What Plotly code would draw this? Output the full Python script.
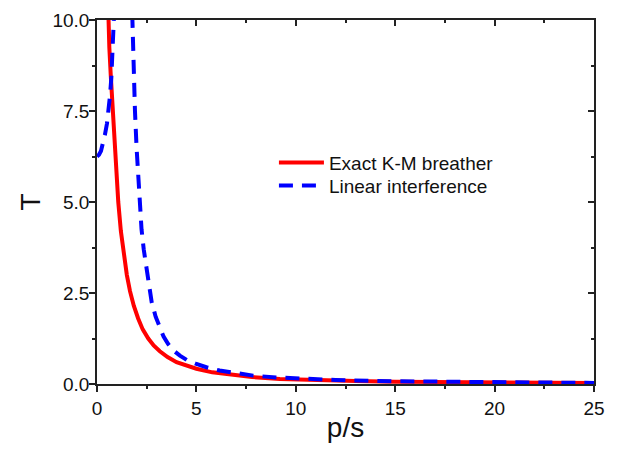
import plotly.graph_objects as go

FONT = "Liberation Sans, Arial, sans-serif"
AXIS_COL = "#222222"

# ── Data ──────────────────────────────────────────────────────────────────────
# Exact K-M breather (solid red)
red_p = [0.54, 0.57, 0.62, 0.69, 0.77, 0.86, 0.96, 1.07, 1.2, 1.35, 1.5, 1.66,
         1.85, 2.07, 2.3, 2.58, 2.85, 3.16, 3.55, 4.0, 4.5, 5.0, 5.8, 6.7, 7.8,
         9.2, 11.0, 13.0, 15.0, 17.5, 20.0, 22.5, 25.0]
red_T = [10.8, 10.0, 9.25, 8.5, 7.7, 6.8, 5.9, 5.0, 4.2, 3.5, 3.0, 2.55,
         2.15, 1.8, 1.5, 1.25, 1.06, 0.9, 0.74, 0.6, 0.5, 0.42, 0.32, 0.25, 0.19,
         0.14, 0.105, 0.08, 0.065, 0.05, 0.04, 0.032, 0.026]

# Linear interference (dashed blue) – two branches around the pole
blue_p = [0.0, 0.1, 0.2, 0.3, 0.4, 0.5, 0.57, 0.65, 0.72, 0.78, 0.83, 0.86, 0.9,
          None,
          1.74, 1.77, 1.8, 1.85, 1.91, 1.99, 2.07, 2.15, 2.24, 2.35, 2.49, 2.6,
          2.75, 2.95, 3.16, 3.35, 3.58, 3.85, 4.17, 4.55, 5.0, 5.5, 6.17, 7.0,
          7.85, 9.0, 10.0, 12.0, 15.0, 17.5, 20.0, 22.5, 25.0]
blue_T = [6.25, 6.3, 6.4, 6.6, 6.85, 7.15, 7.45, 7.9, 8.4, 9.0, 9.6, 10.0, 10.7,
          None,
          10.8, 10.0, 9.2, 8.3, 7.5, 6.5, 5.6, 4.9, 4.25, 3.7, 3.15, 2.75,
          2.25, 1.85, 1.52, 1.3, 1.1, 0.92, 0.78, 0.65, 0.55, 0.46, 0.37, 0.29,
          0.23, 0.18, 0.15, 0.11, 0.075, 0.058, 0.045, 0.037, 0.03]

x_ticks = [0, 5, 10, 15, 20, 25]
y_ticks = [0.0, 2.5, 5.0, 7.5, 10.0]

# ── Figure ────────────────────────────────────────────────────────────────────
fig = go.Figure()
fig.add_trace(go.Scatter(
    x=red_p, y=red_T, mode="lines", name="Exact K-M breather",
    line=dict(color="#FF0000", width=4), legend="legend",
))
fig.add_trace(go.Scatter(
    x=blue_p, y=blue_T, mode="lines", name="Linear interference",
    line=dict(color="#0000FF", width=4, dash="14px,9px"),
    connectgaps=False, legend="legend2",
))

common = dict(
    showline=True, linecolor=AXIS_COL, linewidth=1.5,
    showgrid=False, zeroline=False, automargin=False,
    tickcolor=AXIS_COL, tickwidth=1.5, ticklen=6,
    tickfont=dict(family=FONT, size=19, color="#111111"),
)

leg = dict(xanchor="left", yanchor="top", bgcolor="rgba(0,0,0,0)", itemwidth=45,
           font=dict(family=FONT, size=19, color="#111111"))

fig.update_layout(
    xaxis=dict(range=[0, 25], tickvals=x_ticks, ticks="outside",
               minor=dict(dtick=2.5, ticks="outside", ticklen=3, tickcolor=AXIS_COL),
               title=dict(text="p/s", font=dict(family=FONT, size=28), standoff=0),
               **common),
    yaxis=dict(range=[0, 10], tickvals=y_ticks, tickformat=".1f", ticks="outside",
               ticklabelstandoff=-4,
               minor=dict(dtick=1.25, ticks="outside", ticklen=3, tickcolor=AXIS_COL),
               title=dict(text="T", font=dict(family=FONT, size=28), standoff=4),
               **common),
    xaxis2=dict(range=[0, 25], overlaying="x", side="top", tickvals=x_ticks,
                ticks="inside", showticklabels=False,
                minor=dict(dtick=2.5, ticks="inside", ticklen=3, tickcolor=AXIS_COL),
                **common),
    yaxis2=dict(range=[0, 10], overlaying="y", side="right", tickvals=y_ticks,
                ticks="inside", showticklabels=False,
                minor=dict(dtick=1.25, ticks="inside", ticklen=3, tickcolor=AXIS_COL),
                **common),
    legend=dict(x=0.356, y=0.66, **leg),
    legend2=dict(x=0.356, y=0.597, **leg),
    width=625, height=450,
    margin=dict(l=89, r=39, t=12, b=74),
    paper_bgcolor="white", plot_bgcolor="white",
    font=dict(family=FONT, color="#111111"),
)

# dummy trace so the mirrored axes are drawn
fig.add_trace(go.Scatter(x=[None], y=[None], xaxis="x2", yaxis="y2",
                         showlegend=False, hoverinfo="skip"))

fig.write_html("out.html")
